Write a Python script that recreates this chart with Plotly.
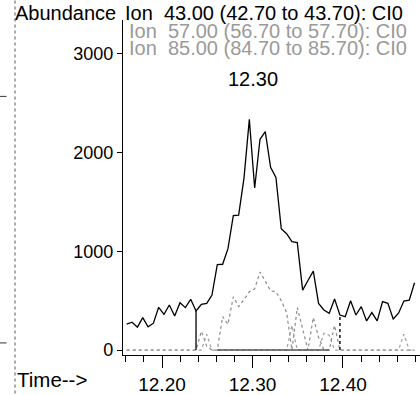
import plotly.graph_objects as go

# ---- data ----
time_min = [12.1610, 12.1669, 12.1728, 12.1787, 12.1846, 12.1905, 12.1963, 12.2022,
            12.2081, 12.2140, 12.2199, 12.2258, 12.2317, 12.2376, 12.2435, 12.2494,
            12.2552, 12.2611, 12.2670, 12.2729, 12.2788, 12.2847, 12.2906, 12.2965,
            12.3024, 12.3083, 12.3141, 12.3200, 12.3259, 12.3318, 12.3377, 12.3436,
            12.3495, 12.3554, 12.3613, 12.3672, 12.3730, 12.3789, 12.3848, 12.3907,
            12.3966, 12.4025, 12.4084, 12.4143, 12.4202, 12.4261, 12.4319, 12.4378,
            12.4437, 12.4496, 12.4555, 12.4614, 12.4673, 12.4732, 12.4791]

ion43 = [262, 282, 232, 329, 235, 272, 433, 362, 456, 345, 480, 430, 514, 396,
         463, 473, 557, 866, 869, 1027, 1362, 1366, 1742, 2336, 1641, 2135, 2212,
         1850, 1749, 1229, 1178, 1098, 1088, 607, 705, 799, 473, 406, 373, 517,
         355, 339, 500, 355, 440, 295, 380, 295, 490, 473, 315, 373, 496, 506, 682]

ion57 = [0, 0, 0, 0, 0, 0, 0, 0, 0, 0, 0, 0, 0, 0, 190, 40, 0, 0, 340, 260,
         540, 440, 510, 590, 620, 790, 700, 600, 590, 500, 380, 0, 430, 200, 0,
         330, 130, 0, 0, 250, 0, 0, 0, 0, 0, 0, 0, 0, 0, 0, 0, 0, 0, 0, 0]

ion85 = [0, 0, 0, 0, 0, 0, 0, 0, 0, 0, 0, 0, 0, 0, 0, 160, 0, 0, 0, 0,
         0, 0, 0, 0, 0, 0, 0, 0, 0, 0, 0, 250, 0, 0, 0, 0, 0, 170, 150, 0,
         0, 0, 0, 0, 0, 0, 0, 0, 0, 0, 0, 0, 160, 0, 0]

peak_label = "12.30"
peak_time = 12.30
int_start = 13   # index of integration start
int_end = 40     # index of integration end
base_start = 17
base_end = 38

y_ticks = [0, 1000, 2000, 3000]
x_ticks = [12.20, 12.30, 12.40]
x_tick_text = ["12.20", "12.30", "12.40"]

title_main = "Abundance"
ion_labels = ["Ion\u00a0\u00a043.00 (42.70 to 43.70): CI0",
              "Ion\u00a0\u00a057.00 (56.70 to 57.70): CI0",
              "Ion\u00a0\u00a085.00 (84.70 to 85.70): CI0"]
x_title = "Time-->"

FONT = "Liberation Sans, Arial, sans-serif"

fig = go.Figure()

fig.add_trace(go.Scatter(x=time_min, y=ion57, mode="lines",
                         line=dict(color="#8c8c8c", width=1.2, dash="dot"),
                         showlegend=False, hoverinfo="skip"))
fig.add_trace(go.Scatter(x=time_min, y=ion85, mode="lines",
                         line=dict(color="#a0a0a0", width=1.2, dash="dot"),
                         showlegend=False, hoverinfo="skip"))
# integration baseline
fig.add_trace(go.Scatter(x=[time_min[base_start], time_min[base_end]], y=[0, 0],
                         mode="lines", line=dict(color="#555555", width=1.6),
                         showlegend=False, hoverinfo="skip"))
# drop lines
fig.add_trace(go.Scatter(x=[time_min[int_start], time_min[int_start]],
                         y=[0, ion43[int_start]], mode="lines",
                         line=dict(color="black", width=1.3),
                         showlegend=False, hoverinfo="skip"))
fig.add_trace(go.Scatter(x=[time_min[int_end], time_min[int_end]],
                         y=[0, ion43[int_end]], mode="lines",
                         line=dict(color="#222222", width=1.6, dash="dot"),
                         showlegend=False, hoverinfo="skip"))
fig.add_trace(go.Scatter(x=time_min, y=ion43, mode="lines",
                         line=dict(color="black", width=1.3),
                         showlegend=False, hoverinfo="skip"))

fig.add_annotation(x=peak_time, y=max(ion43), text=peak_label, showarrow=False,
                   yanchor="middle", yshift=40, font=dict(size=20, color="black", family=FONT))

# header texts (paper coordinates)
fig.add_annotation(xref="paper", yref="paper", x=-0.0168, y=1.0208, text=title_main,
                   showarrow=False, xanchor="right", yanchor="middle",
                   font=dict(size=20, color="black", family=FONT))
fig.add_annotation(xref="paper", yref="paper", x=0.0, y=1.0208, text=ion_labels[0],
                   showarrow=False, xanchor="left", yanchor="middle",
                   font=dict(size=20, color="black", family=FONT))
fig.add_annotation(xref="paper", yref="paper", x=0.013, y=0.967, text=ion_labels[1],
                   showarrow=False, xanchor="left", yanchor="middle",
                   font=dict(size=20, color="#9a9a9a", family=FONT))
fig.add_annotation(xref="paper", yref="paper", x=0.013, y=0.917, text=ion_labels[2],
                   showarrow=False, xanchor="left", yanchor="middle",
                   font=dict(size=20, color="#9a9a9a", family=FONT))
fig.add_annotation(xref="paper", yref="paper", x=-0.3636, y=-0.0742, text=x_title,
                   showarrow=False, xanchor="left", yanchor="middle",
                   font=dict(size=20.5, color="black", family=FONT))

# scan border decorations
fig.add_shape(type="line", xref="paper", yref="paper", x0=-0.3636, x1=-0.3636,
              y0=-0.115, y1=1.06, line=dict(color="#555555", width=1, dash="dot"))
fig.add_shape(type="line", xref="paper", yref="paper", x0=-0.414, x1=-0.392,
              y0=0.772, y1=0.772, line=dict(color="#333333", width=1))
fig.add_shape(type="line", xref="paper", yref="paper", x0=-0.414, x1=-0.392,
              y0=0.036, y1=0.036, line=dict(color="#333333", width=1))

fig.update_layout(
    width=420, height=395, autosize=False,
    margin=dict(l=123, r=0, t=20, b=38),
    paper_bgcolor="white", plot_bgcolor="white",
    font=dict(family=FONT, size=18, color="black"),
    xaxis=dict(range=[12.1569, 12.4851], tickvals=x_ticks, ticktext=x_tick_text,
               ticks="outside", ticklen=12, tickwidth=1.2, tickcolor="black",
               showline=True, linecolor="black", linewidth=1.3, showgrid=False,
               zeroline=False, tickfont=dict(size=19, family=FONT),
               minor=dict(dtick=0.02, tick0=12.16, ticks="outside", ticklen=6,
                          tickwidth=1, tickcolor="black", showgrid=False)),
    yaxis=dict(range=[-50, 3343], tickvals=y_ticks, ticks="outside", ticklen=5,
               tickwidth=1.2, tickcolor="black", showline=True, linecolor="black",
               linewidth=1.3, showgrid=False, zeroline=False,
               tickfont=dict(size=18, family=FONT)),
)

fig.write_html("out.html", config={"displayModeBar": False},
               post_script="document.body.style.margin='0';document.body.style.overflow='hidden';")
